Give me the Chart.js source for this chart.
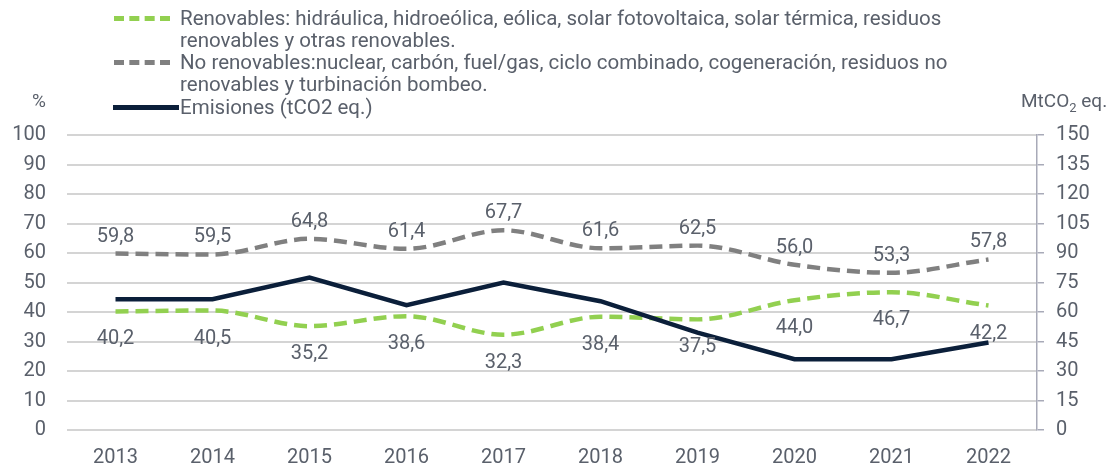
<!DOCTYPE html>
<html>
<head>
<meta charset="utf-8">
<script src="https://cdn.jsdelivr.net/npm/chart.js@4.4.1/dist/chart.umd.min.js"></script>
<style>
  html, body { margin: 0; padding: 0; background: #fff; }
  #wrap { position: relative; width: 1116px; height: 468px; font-family: Roboto, "Noto Sans", sans-serif; color: #5a606b; }
  canvas { position: absolute; left: 0; top: 0; }
  .leg { position: absolute; font-size: 20.5px; line-height: 22px; color: #5a606b; white-space: nowrap; }
  .sw { position: absolute; height: 0; }
  .unit { position: absolute; font-size: 19px; color: #5a606b; }
</style>
</head>
<body>
<div id="wrap">
  <canvas id="chart" width="1116" height="468"></canvas>
  <div class="sw" style="left:114px; top:16px; width:56px; border-top:5px dashed #92D050;"></div>
  <div class="leg" style="left:180px; top:7px;">Renovables: hidráulica, hidroeólica, eólica, solar fotovoltaica, solar térmica, residuos<br>renovables y otras renovables.</div>
  <div class="sw" style="left:114px; top:60px; width:56px; border-top:5px dashed #808080;"></div>
  <div class="leg" style="left:180px; top:51px;">No renovables:nuclear, carbón, fuel/gas, ciclo combinado, cogeneración, residuos no<br>renovables y turbinación bombeo.</div>
  <div class="sw" style="left:113px; top:105px; width:66px; border-top:5px solid #0B1F3A;"></div>
  <div class="leg" style="left:180px; top:96px;">Emisiones (tCO2 eq.)</div>
  <div class="unit" style="left:32px; top:89px;">%</div>
  <div class="unit" style="left:1021px; top:89px;">MtCO<sub style="font-size:13px;">2</sub> eq.</div>
</div>
<script>
  const years = ["2013", "2014", "2015", "2016", "2017", "2018", "2019", "2020", "2021", "2022"];
  const renovables = [40.2, 40.5, 35.2, 38.6, 32.3, 38.4, 37.5, 44.0, 46.7, 42.2];
  const noRenovables = [59.8, 59.5, 64.8, 61.4, 67.7, 61.6, 62.5, 56.0, 53.3, 57.8];
  const emisiones = [66.5, 66.5, 77.5, 63.5, 75.0, 65.5, 49.5, 36.0, 36.0, 44.5];
  const leftTicks = [0, 10, 20, 30, 40, 50, 60, 70, 80, 90, 100];
  const rightTicks = [0, 15, 30, 45, 60, 75, 90, 105, 120, 135, 150];

  const textColor = "#5a606b";
  const tickFont = { family: "Roboto", size: 20 };

  // values drawn next to the two dashed series (comma decimals)
  const valueLabels = {
    id: "valueLabels",
    afterDatasetsDraw(chart) {
      const ctx = chart.ctx;
      ctx.save();
      ctx.font = "20px Roboto";
      ctx.fillStyle = textColor;
      ctx.textAlign = "center";
      ctx.textBaseline = "middle";
      chart.data.datasets.forEach((ds, i) => {
        if (!ds.labelOffset) return;
        const meta = chart.getDatasetMeta(i);
        meta.data.forEach((pt, j) => {
          const txt = ds.data[j].toFixed(1).replace(".", ",");
          ctx.fillText(txt, pt.x, pt.y + ds.labelOffset);
        });
      });
      ctx.restore();
    },
  };

  new Chart(document.getElementById("chart"), {
    type: "line",
    data: {
      labels: years,
      datasets: [
        {
          label: "Emisiones (tCO2 eq.)",
          data: emisiones,
          yAxisID: "y1",
          borderColor: "#0B1F3A",
          borderWidth: 4.5,
          tension: 0,
          pointRadius: 0,
        },
        {
          label: "No renovables",
          data: noRenovables,
          yAxisID: "y",
          borderColor: "#808080",
          borderWidth: 4.5,
          borderDash: [13, 7],
          cubicInterpolationMode: "monotone",
          pointRadius: 0,
          labelOffset: -17,
        },
        {
          label: "Renovables",
          data: renovables,
          yAxisID: "y",
          borderColor: "#92D050",
          borderWidth: 4.5,
          borderDash: [13, 7],
          cubicInterpolationMode: "monotone",
          pointRadius: 0,
          labelOffset: 28,
        },
      ],
    },
    options: {
      responsive: false,
      animation: false,
      layout: { padding: { top: 135, bottom: 0, left: 0, right: 0 } },
      plugins: { legend: { display: false }, tooltip: { enabled: false } },
      scales: {
        x: {
          offset: true,
          grid: { display: false },
          border: { display: false },
          ticks: { color: textColor, font: tickFont, padding: 8 },
          afterFit(scale) { scale.height = 38; },
        },
        y: {
          position: "left",
          min: 0,
          max: 100,
          afterBuildTicks(scale) { scale.ticks = leftTicks.map((v) => ({ value: v })); },
          grid: { color: "#d4d4d4", lineWidth: 2, drawTicks: false },
          border: { display: false },
          ticks: { color: textColor, font: tickFont, padding: 21 },
          afterFit(scale) { scale.width = 67; },
        },
        y1: {
          position: "right",
          min: 0,
          max: 150,
          afterBuildTicks(scale) { scale.ticks = rightTicks.map((v) => ({ value: v })); },
          grid: { drawOnChartArea: false, tickLength: 7, color: "#a8aab8", lineWidth: 1.5 },
          border: { display: true, color: "#a8aab8", width: 1.5 },
          ticks: { color: textColor, font: tickFont, padding: 12 },
          afterFit(scale) { scale.width = 79; },
        },
      },
    },
    plugins: [valueLabels],
  });
</script>
</body>
</html>
